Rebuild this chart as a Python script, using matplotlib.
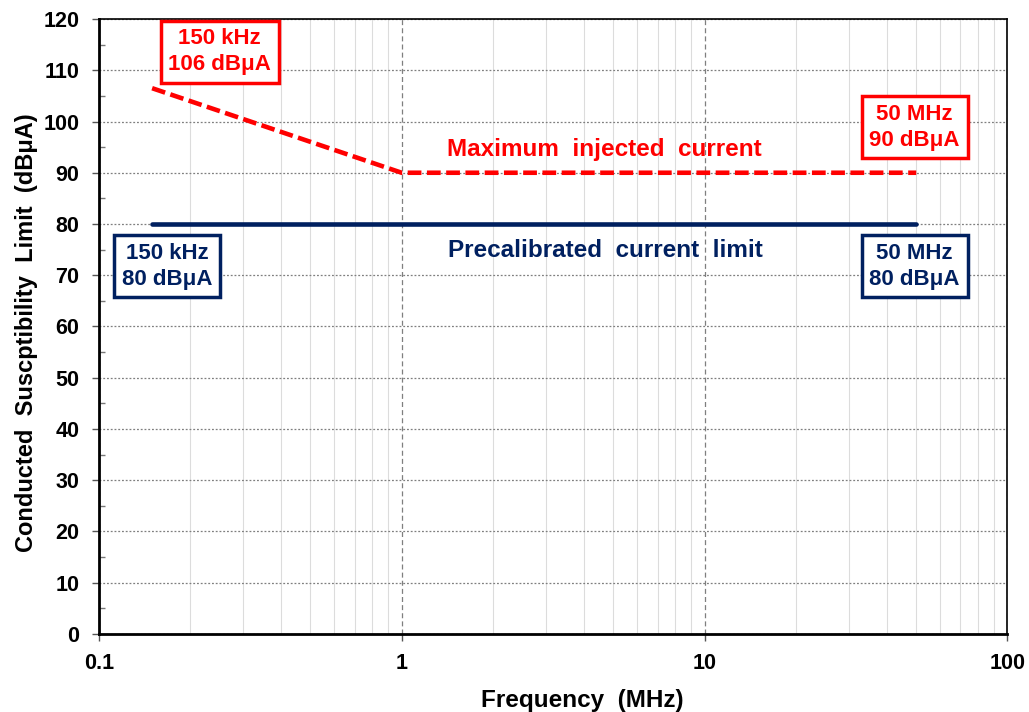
import matplotlib
matplotlib.use('Agg')
import matplotlib.pyplot as plt
from matplotlib.ticker import LogLocator, MultipleLocator, NullFormatter

plt.rcParams['font.family'] = ['Liberation Sans', 'DejaVu Sans']
plt.rcParams['font.weight'] = 'bold'

# data (MHz, dBuA)
max_freq = [0.15, 1, 50]
max_level = [106.5, 90, 90]
cal_freq = [0.15, 50]
cal_level = [80, 80]

x_ticks = [0.1, 1, 10, 100]
x_labels = ['0.1', '1', '10', '100']

RED = '#FF0000'
NAVY = '#002060'

fig = plt.figure(figsize=(10.29, 7.12), dpi=100)
ax = fig.add_axes([0.096, 0.1096, 0.883, 0.8637])

ax.plot(cal_freq, cal_level, color=NAVY, lw=3.3, solid_capstyle='round', zorder=3)
ax.plot(max_freq, max_level, color=RED, lw=3.3, dashes=(3.0, 1.2), zorder=3)

ax.set_xscale('log')
ax.set_xlim(0.1, 100)
ax.set_ylim(0, 120)
ax.set_xticks(x_ticks)
ax.set_xticklabels(x_labels)
ax.xaxis.set_minor_locator(LogLocator(base=10, subs=range(2, 10)))
ax.xaxis.set_minor_formatter(NullFormatter())
ax.yaxis.set_major_locator(MultipleLocator(10))
ax.yaxis.set_minor_locator(MultipleLocator(5))

ax.grid(which='major', axis='y', color='#7f7f7f', ls=(0, (1.5, 1.5)), lw=0.9)
ax.grid(which='major', axis='x', color='#7f7f7f', ls=(0, (4, 2.5)), lw=0.9)
ax.grid(which='minor', axis='x', color='#dcdcdc', ls='-', lw=0.8)
ax.set_axisbelow(True)

ax.tick_params(axis='both', which='major', labelsize=15.5, length=5, width=1, direction='out', color='#555555')
ax.tick_params(axis='y', which='major', pad=9)
ax.tick_params(axis='x', which='major', pad=9)
ax.tick_params(axis='y', which='minor', length=4, width=1, direction='in', color='#777777')
ax.tick_params(axis='x', which='minor', length=0)

for side in ['left', 'bottom']:
    ax.spines[side].set_linewidth(2.0)
for side in ['top', 'right']:
    ax.spines[side].set_linewidth(1.2)

ax.set_xlabel('Frequency  (MHz)', fontsize=17.5, fontweight='bold', va='top')
ax.xaxis.set_label_coords(0.532, -0.09)
ax.set_ylabel('Conducted  Suscptibility  Limit  (dBμA)', fontsize=17, fontweight='bold')
ax.yaxis.set_label_coords(-0.067, 0.49)

box_red = dict(boxstyle='square,pad=0.34', fc='white', ec=RED, lw=2.5)
box_navy = dict(boxstyle='square,pad=0.34', fc='white', ec=NAVY, lw=2.5)

ax.text(0.133, 0.947, '150 kHz\n106 dBμA', transform=ax.transAxes, color=RED, fontsize=16,
        ha='center', va='center', bbox=box_red, linespacing=1.3, zorder=5)
ax.text(0.898, 0.824, '50 MHz\n90 dBμA', transform=ax.transAxes, color=RED, fontsize=16,
        ha='center', va='center', bbox=box_red, linespacing=1.3, zorder=5)
ax.text(0.075, 0.598, '150 kHz\n80 dBμA', transform=ax.transAxes, color=NAVY, fontsize=16,
        ha='center', va='center', bbox=box_navy, linespacing=1.3, zorder=5)
ax.text(0.898, 0.598, '50 MHz\n80 dBμA', transform=ax.transAxes, color=NAVY, fontsize=16,
        ha='center', va='center', bbox=box_navy, linespacing=1.3, zorder=5)

ax.text(0.556, 0.787, 'Maximum  injected  current', transform=ax.transAxes, color=RED,
        fontsize=17.5, ha='center', va='center', zorder=5)
ax.text(0.558, 0.624, 'Precalibrated  current  limit', transform=ax.transAxes, color=NAVY,
        fontsize=17.5, ha='center', va='center', zorder=5)

fig.savefig('out.png', dpi=100)
